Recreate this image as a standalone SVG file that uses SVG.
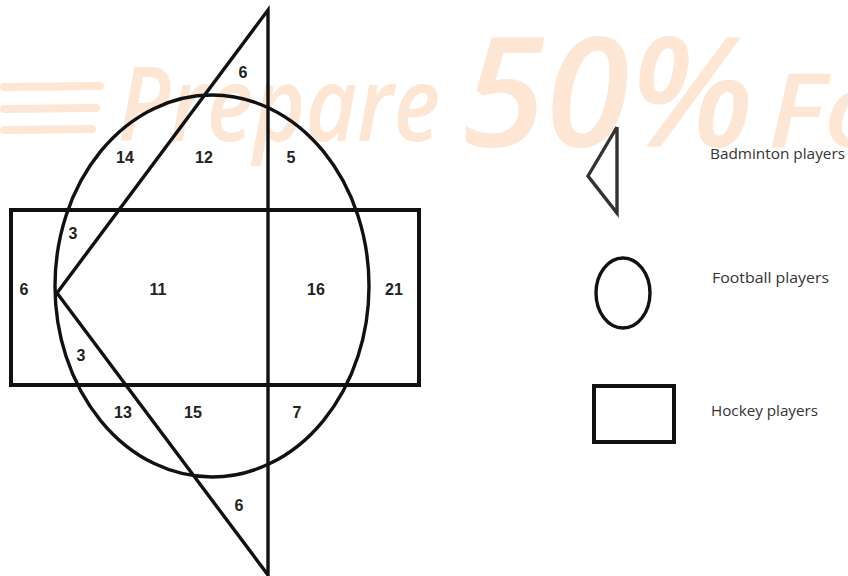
<svg xmlns="http://www.w3.org/2000/svg" width="848" height="576" viewBox="0 0 848 576">
<defs>
<style>
.wm{font-family:"Open Sans","Liberation Sans",sans-serif;font-weight:600;font-style:italic;fill:#fde6d4}
.wl{stroke:#fde6d4;stroke-width:8;stroke-linecap:round}
.shape{fill:none;stroke:#111;stroke-width:3.4;stroke-linejoin:miter}
.rect{fill:none;stroke:#111;stroke-width:4}
.num{font-family:"Liberation Sans",Arial,sans-serif;font-weight:700;font-size:16px;fill:#222;text-anchor:middle}
.leg{font-family:"Open Sans","Liberation Sans",sans-serif;font-size:15px;fill:#333}
</style>
</defs>
<rect width="848" height="576" fill="#fff"/>
<g id="watermark">
<line class="wl" x1="4" y1="87" x2="100" y2="86"/>
<line class="wl" x1="4" y1="109" x2="96" y2="108"/>
<line class="wl" x1="4" y1="130" x2="92" y2="129"/>
<text class="wm" x="118" y="141" font-size="104" textLength="322" lengthAdjust="spacingAndGlyphs">Prepare</text>
<text class="wm" x="462" y="147" font-size="152" font-weight="700" textLength="292" lengthAdjust="spacingAndGlyphs">50%</text>
<text class="wm" x="768" y="147" font-size="104" textLength="120" lengthAdjust="spacingAndGlyphs">Fo</text>
</g>
<g id="hockey">
<rect class="rect" x="11" y="210" width="408" height="175"/>
</g>
<g id="football">
<ellipse class="shape" cx="212" cy="286" rx="157" ry="191"/>
</g>
<g id="badminton">
<polygon class="shape" points="268,10 268,575 57,293"/>
</g>
<g id="labels">
<text class="num" x="243" y="78">6</text>
<text class="num" x="125" y="163">14</text>
<text class="num" x="204" y="163">12</text>
<text class="num" x="291" y="163">5</text>
<text class="num" x="73" y="239">3</text>
<text class="num" x="24" y="295">6</text>
<text class="num" x="158" y="295">11</text>
<text class="num" x="316" y="295">16</text>
<text class="num" x="394" y="295">21</text>
<text class="num" x="81" y="361">3</text>
<text class="num" x="123" y="418">13</text>
<text class="num" x="193" y="418">15</text>
<text class="num" x="297" y="418">7</text>
<text class="num" x="239" y="511">6</text>
</g>
<g id="legend-badminton">
<polyline class="shape" points="617,127 617,213 588,176 617,127" style="stroke:#333"/>
<text class="leg" x="710" y="159" textLength="135" lengthAdjust="spacingAndGlyphs">Badminton players</text>
</g>
<g id="legend-football">
<ellipse class="shape" cx="623" cy="293" rx="27" ry="35"/>
<text class="leg" x="712" y="283" textLength="117" lengthAdjust="spacingAndGlyphs">Football players</text>
</g>
<g id="legend-hockey">
<rect class="rect" x="594" y="386" width="80" height="56"/>
<text class="leg" x="711" y="416" textLength="107" lengthAdjust="spacingAndGlyphs">Hockey players</text>
</g>
<g id="connectors"></g>
</svg>
